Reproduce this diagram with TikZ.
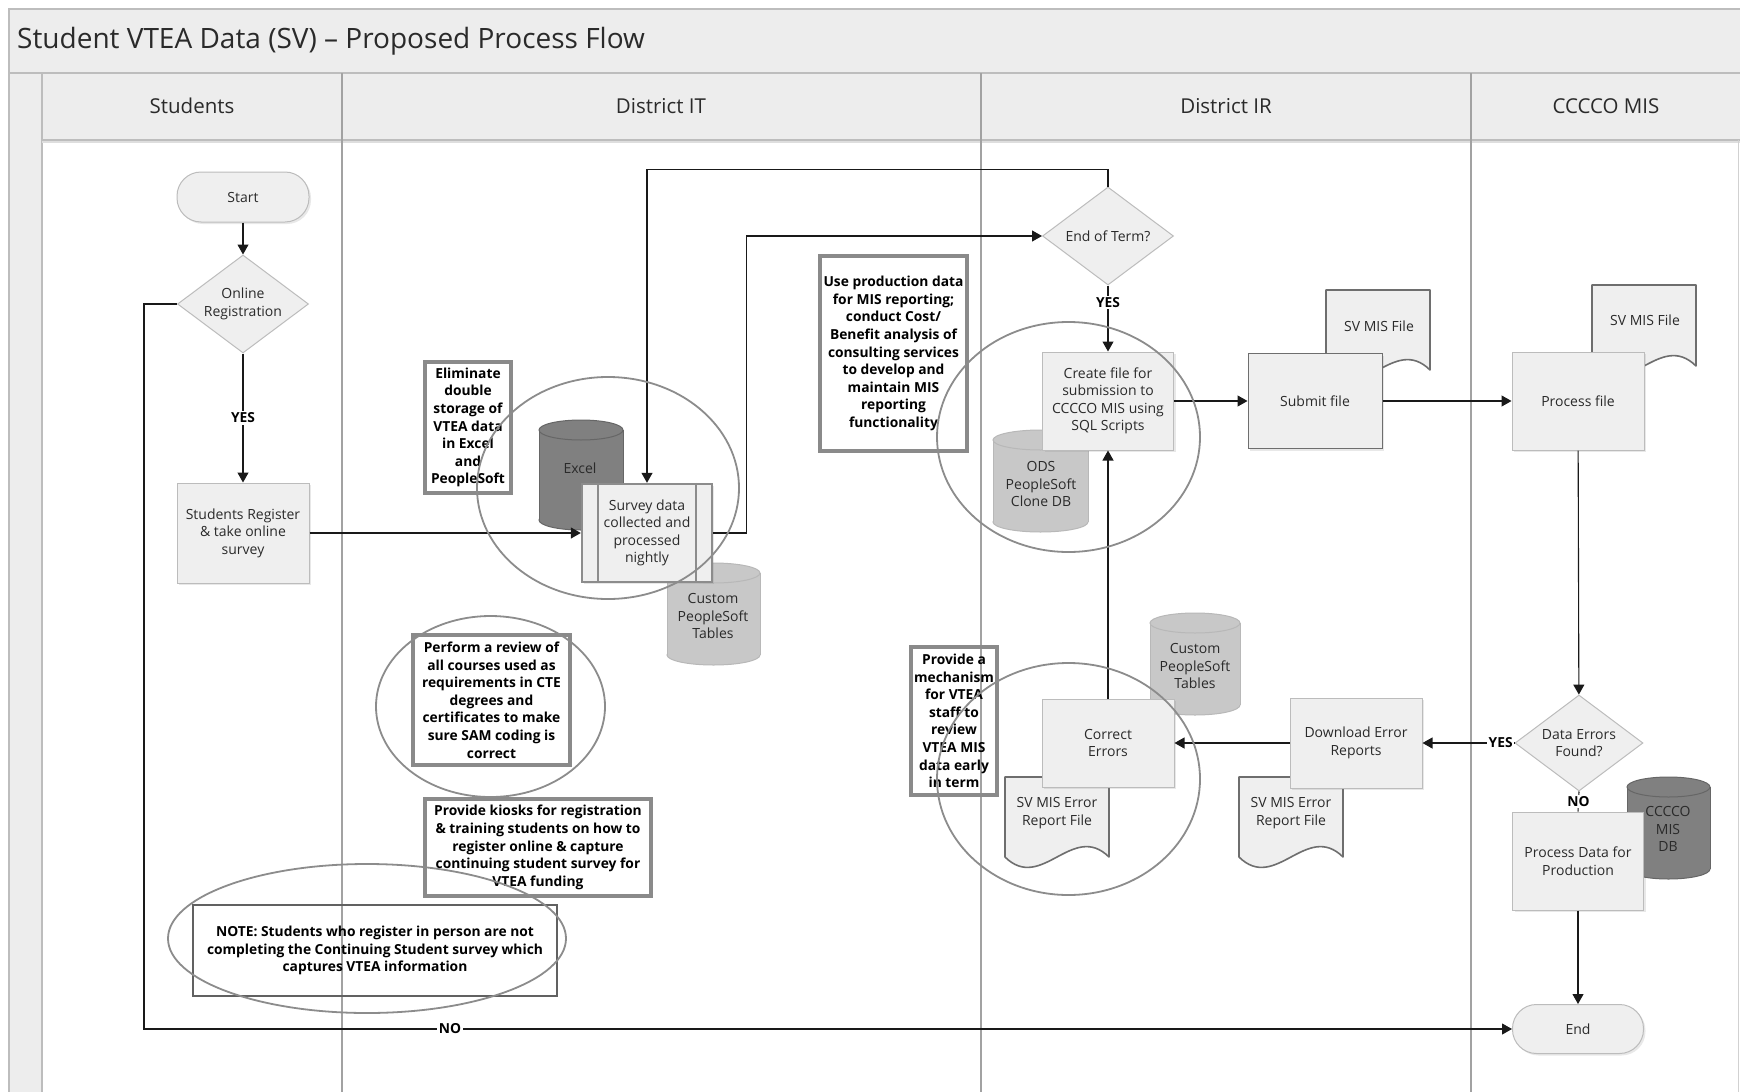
\documentclass[tikz,border=0pt]{standalone}
\usepackage{fontspec}
\setmainfont{Open Sans}
\usetikzlibrary{arrows.meta,shapes.geometric,shadows}

\definecolor{bandfill}{HTML}{EDEDED}
\definecolor{bandline}{HTML}{BDBDBD}
\definecolor{lanesep}{HTML}{A2A2A2}
\definecolor{boxfill}{HTML}{EFEFEF}
\definecolor{boxline}{HTML}{BCBCBC}
\definecolor{darkline}{HTML}{6E6E6E}
\definecolor{notegray}{HTML}{8A8A8A}
\definecolor{ringgray}{HTML}{8C8C8C}
\definecolor{dbdark}{HTML}{808080}
\definecolor{dblight}{HTML}{C8C8C8}
\definecolor{txt}{HTML}{2A2A2A}

\newcommand\nodefont{\fontsize{14}{17.5}\selectfont}
\newcommand\annfont{\bfseries\fontsize{13.8}{17.6}\selectfont}

% cylinder: x1,y1,x2,y2,fill,draw
\newcommand\cylshape[6]{%
  \pgfmathsetmacro\cylcx{(#1+#3)/2}%
  \pgfmathsetmacro\cylrx{(#3-#1)/2}%
  \filldraw[fill=#5,draw=#6,line width=1pt] (\cylcx,#4-10) ellipse [x radius=\cylrx, y radius=10];
  \fill[#5] (#1,#2+10) rectangle (#3,#4-10);
  \draw[#6,line width=1pt] (#1,#2+10) -- (#1,#4-10) (#3,#2+10) -- (#3,#4-10);
  \filldraw[fill=#5,draw=#6,line width=1pt] (\cylcx,#2+10) ellipse [x radius=\cylrx, y radius=10];
}
% document: x1,y1,x2,y2
\newcommand\docshape[4]{%
  \filldraw[fill=boxfill,draw=darkline,line width=1.6pt,line join=round]
   (#1,#2) -- (#3,#2) -- (#3,#4)
   .. controls ({#3-0.35*(#3-#1)},{#4-36}) and ({#1+0.35*(#3-#1)},{#4+36}) .. (#1,#4) -- cycle;
}

\tikzset{
  proc/.style={rectangle, fill=boxfill, draw=boxline, line width=1pt, align=center,
    font=\nodefont, text=txt, inner sep=2pt,
    drop shadow={opacity=0.18, shadow xshift=2pt, shadow yshift=-2pt}},
  term/.style={proc, rounded corners=24pt},
  dec/.style={diamond, fill=boxfill, draw=boxline, line width=1pt, align=center,
    font=\nodefont, text=txt, inner sep=0pt, aspect=1.33},
  ann/.style={rectangle, draw=notegray, line width=4pt, align=center,
    font=\annfont, text=black, inner sep=0pt},
  ring/.style={ellipse, draw=ringgray, line width=1.8pt, inner sep=0pt},
  flow/.style={line width=1.1pt, draw=black!90, -{Triangle[length=10pt,width=11pt]}},
  plain/.style={line width=1.1pt, draw=black!90},
  lbl/.style={font=\bfseries\fontsize{13.8}{15}\selectfont, fill=white, inner sep=1.5pt, text=black},
  dbtext/.style={align=center, font=\nodefont, text=txt, inner sep=0pt},
  hdr/.style={font=\fontsize{20.5}{24}\selectfont, text=txt},
}

\begin{document}
\begin{tikzpicture}[x=1pt,y=-1pt]
\useasboundingbox (0,0) rectangle (1740,1092);
\fill[white] (0,0) rectangle (1740,1092);

% ---------- frame ----------
\filldraw[fill=bandfill, draw=bandline, line width=1.2pt] (9,9) rectangle (1760,73);
\filldraw[fill=bandfill, draw=bandline, line width=1.2pt] (9,73) rectangle (42,1110);
\filldraw[fill=bandfill, draw=bandline, line width=1.2pt] (42,73) rectangle (1760,140);
\draw[black!13, line width=2.5pt] (42,142) -- (1740,142);
\draw[black!18, line width=1pt] (1738,140) -- (1738,1100);
\foreach \lx in {342,981,1471}{
  \draw[lanesep, line width=2.2pt] (\lx,73) -- (\lx,1100);
}
\node[anchor=west, font=\fontsize{28}{32}\selectfont, text=txt, inner sep=0pt] (title) at (17,41)
  {Student VTEA Data (SV) – Proposed Process Flow};
\node[hdr] (hStudents) at (192,106) {Students};
\node[hdr] (hIT) at (661,106) {District IT};
\node[hdr] (hIR) at (1226,106) {District IR};
\node[hdr] (hMIS) at (1606,106) {CCCCO MIS};

% ---------- data stores and documents (behind) ----------
\cylshape{539}{420}{623}{530}{dbdark}{black!60}
\node[dbtext] (excel) at (580,468) {Excel};
\cylshape{667}{563}{760}{665}{dblight}{black!28}
\node[dbtext] (custIT) at (713,616) {Custom\\PeopleSoft\\Tables};
\cylshape{993}{430}{1088}{532}{dblight}{black!28}
\node[dbtext] (ods) at (1041,484) {ODS\\PeopleSoft\\Clone DB};
\cylshape{1150}{613}{1240}{715}{dblight}{black!28}
\node[dbtext] (custIR) at (1195,666) {Custom\\PeopleSoft\\Tables};
\cylshape{1627}{777}{1710}{879}{dbdark}{black!60}
\node[dbtext] (misdb) at (1668,829) {CCCCO\\MIS\\DB};

\docshape{1326}{290}{1430}{370}
\node[dbtext] (doc1) at (1379,326) {SV MIS File};
\docshape{1592}{285}{1696}{366}
\node[dbtext] (doc2) at (1645,320) {SV MIS File};
\docshape{1005}{777}{1109}{857}
\node[dbtext] (doc3) at (1057,813) {SV MIS Error\\Report File};
\docshape{1239}{777}{1343}{857}
\node[dbtext] (doc4) at (1291,813) {SV MIS Error\\Report File};

% ---------- process nodes ----------
\node[term, minimum width=132pt, minimum height=50pt] (start) at (243,197) {Start};
\node[dec, minimum width=131pt, minimum height=98pt] (onreg) at (243,304) {Online\\Registration};
\node[proc, minimum width=132pt, minimum height=100pt] (streg) at (243,533) {Students Register\\\& take online\\survey};
\node[proc, draw=black!45, line width=2.4pt, minimum width=130pt, minimum height=98pt] (survey) at (647,533)
  {Survey data\\collected and\\processed\\nightly};
\draw[black!45, line width=2.4pt] ([xshift=17pt]survey.north west) -- ([xshift=17pt]survey.south west);
\draw[black!45, line width=2.4pt] ([xshift=-17pt]survey.north east) -- ([xshift=-17pt]survey.south east);
\node[dec, minimum width=131pt, minimum height=98pt] (eot) at (1108,236) {End of Term?};
\node[proc, minimum width=131pt, minimum height=98pt] (create) at (1108,401)
  {Create file for\\submission to\\CCCCO MIS using\\SQL Scripts};
\node[proc, draw=darkline, minimum width=134pt, minimum height=95pt] (submit) at (1315,401) {Submit file};
\node[proc, minimum width=132pt, minimum height=98pt] (process) at (1578,401) {Process file};
\node[dec, minimum width=128pt, minimum height=96pt] (dataerr) at (1579,743) {Data Errors\\Found?};
\node[proc, minimum width=131pt, minimum height=98pt] (procdata) at (1578,861) {Process Data for\\Production};
\node[term, minimum width=131pt, minimum height=49pt] (endn) at (1578,1029) {End};
\node[proc, minimum width=132pt, minimum height=90pt] (download) at (1356,743) {Download Error\\Reports};
\node[proc, minimum width=132pt, minimum height=88pt] (correct) at (1108,743) {Correct\\Errors};

% ---------- connectors ----------
\draw[flow] (start) -- (onreg);
\draw[flow] (onreg) -- node[lbl]{YES} (streg);
\draw[flow] (streg) -- (survey);
\draw[flow] (survey.east) -- ++(33,0) |- (eot.west);
\draw[flow] (eot.north) -- ++(0,-17) -| (survey.north);
\draw[flow] (eot) -- node[lbl, pos=0.26]{YES} (create);
\draw[flow] (create) -- (submit);
\draw[flow] (submit) -- (process);
\draw[flow] (process) -- (dataerr);
\draw[flow] (dataerr.west) -- node[lbl, pos=0.15]{YES} (download.east);
\draw[plain] (dataerr.south) -- node[lbl]{NO} (procdata.north);
\draw[flow] (procdata) -- (endn);
\draw[flow] (download) -- (correct);
\draw[flow] (correct) -- (create);
\draw[flow] (onreg.west) -- ++(-33,0) |- (endn.west);
\node[lbl] (nolbl) at (450,1029) {NO};

% ---------- annotation boxes ----------
\node[ann, minimum width=86pt, minimum height=131pt] (elim) at (468,427.5)
  {Eliminate\\double\\storage of\\VTEA data\\in Excel\\and\\PeopleSoft};
\node[ann, minimum width=147pt, minimum height=195pt] (useprod) at (893.5,353.5)
  {Use production data\\for MIS reporting;\\conduct Cost/\\Benefit analysis of\\consulting services\\to develop and\\maintain MIS\\reporting\\functionality};
\node[ann, minimum width=157pt, minimum height=130pt] (perform) at (491.5,700)
  {Perform a review of\\all courses used as\\requirements in CTE\\degrees and\\certificates to make\\sure SAM coding is\\correct};
\node[ann, minimum width=226pt, minimum height=97pt] (kiosk) at (538,847.5)
  {Provide kiosks for registration\\\& training students on how to\\register online \& capture\\continuing student survey for\\VTEA funding};
\node[ann, minimum width=86pt, minimum height=148pt] (mech) at (954,721)
  {Provide a\\mechanism\\for VTEA\\staff to\\review\\VTEA MIS\\data early\\in term};
\node[ann, draw=black!62, line width=1.5pt, minimum width=364pt, minimum height=91pt] (note) at (375,950.5)
  {NOTE: Students who register in person are not\\completing the Continuing Student survey which\\captures VTEA information};

% ---------- highlight rings ----------
\node[ring, minimum width=262pt, minimum height=222pt] (ring1) at (608,488) {};
\node[ring, minimum width=229pt, minimum height=181pt] (ring2) at (490.5,706.5) {};
\node[ring, minimum width=263pt, minimum height=230pt] (ring3) at (1068.5,437) {};
\node[ring, minimum width=263pt, minimum height=232pt] (ring4) at (1068.5,779) {};
\node[ring, minimum width=398pt, minimum height=149pt] (ring5) at (367,938.5) {};
\end{tikzpicture}
\end{document}
